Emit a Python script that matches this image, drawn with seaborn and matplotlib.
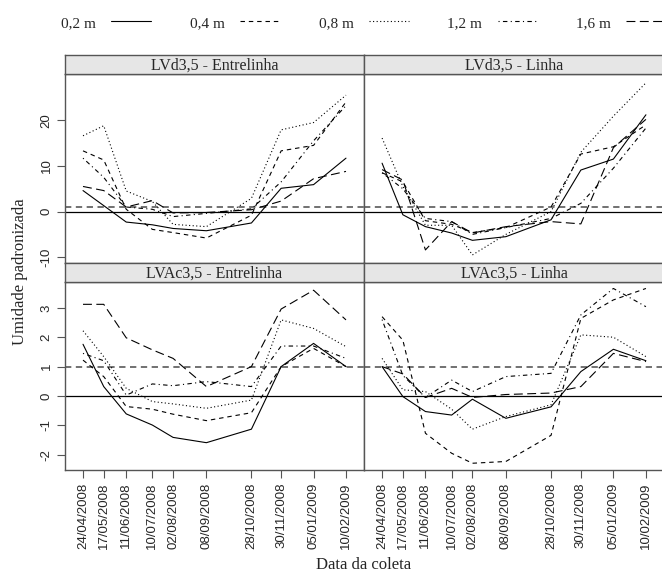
import numpy as np
import pandas as pd
import matplotlib
matplotlib.use('Agg')
import matplotlib.pyplot as plt
import seaborn as sns

# Datas de coleta
datas = ['24/04/2008', '17/05/2008', '11/06/2008', '10/07/2008', '02/08/2008',
         '08/09/2008', '28/10/2008', '30/11/2008', '05/01/2009', '10/02/2009']
profundidades = ['0,2 m', '0,4 m', '0,8 m', '1,2 m', '1,6 m']

# LVd3,5 - Entrelinha
lvd_entre_02 = [4.6, 1.3, -2.3, -2.9, -3.7, -4.2, -2.5, 5.1, 5.9, 11.7]
lvd_entre_04 = [13.3, 11.3, 0.5, -3.9, -4.6, -5.8, -0.8, 13.3, 14.5, 24.0]
lvd_entre_08 = [16.6, 18.8, 4.5, 2.2, -2.8, -3.3, 2.9, 17.9, 19.5, 25.5]
lvd_entre_12 = [11.7, 7.5, 1.0, 0.5, -1.1, -0.4, 0.6, 6.5, 15.5, 23.2]
lvd_entre_16 = [5.5, 4.6, 1.0, 2.4, -0.3, -0.2, 0.4, 2.3, 7.2, 8.8]

# LVd3,5 - Linha
lvd_linha_02 = [10.6, -0.7, -3.3, -4.7, -6.3, -5.5, -1.8, 9.1, 11.5, 21.2]
lvd_linha_04 = [8.5, 6.5, -2.0, -2.8, -4.6, -3.5, 1.0, 12.6, 14.2, 19.0]
lvd_linha_08 = [16.1, 5.5, -3.0, -3.0, -9.5, -5.0, 0.0, 13.0, 20.9, 28.2]
lvd_linha_12 = [8.5, 5.0, -1.5, -2.2, -5.0, -3.5, -1.5, 1.8, 9.5, 18.3]
lvd_linha_16 = [9.2, 6.9, -8.4, -2.2, -4.7, -3.3, -2.2, -2.7, 14.0, 20.2]

# LVAc3,5 - Entrelinha
lvac_entre_02 = [1.76, 0.32, -0.61, -0.99, -1.41, -1.59, -1.13, 1.0, 1.79, 1.0]
lvac_entre_04 = [1.22, 0.66, -0.36, -0.45, -0.62, -0.84, -0.57, 1.0, 1.62, 1.0]
lvac_entre_08 = [2.22, 1.34, 0.26, -0.19, -0.27, -0.42, -0.14, 2.59, 2.30, 1.68]
lvac_entre_12 = [1.45, 1.2, 0.03, 0.41, 0.35, 0.49, 0.32, 1.70, 1.70, 1.28]
lvac_entre_16 = [3.12, 3.12, 1.98, 1.57, 1.28, 0.32, 1.0, 2.96, 3.6, 2.59]

# LVAc3,5 - Linha
lvac_linha_02 = [1.0, -0.02, -0.53, -0.65, -0.11, -0.76, -0.37, 0.83, 1.59, 1.2]
lvac_linha_04 = [2.7, 1.9, -1.27, -1.95, -2.29, -2.23, -1.34, 2.64, 3.27, 3.66]
lvac_linha_08 = [1.28, 0.21, 0.15, -0.45, -1.13, -0.70, -0.30, 2.08, 2.0, 1.34]
lvac_linha_12 = [2.6, 0.7, -0.05, 0.54, 0.15, 0.66, 0.77, 2.76, 3.66, 3.04]
lvac_linha_16 = [1.0, 0.75, -0.05, 0.26, -0.05, 0.05, 0.10, 0.32, 1.45, 1.17]

paineis = {
    'LVd3,5 - Entrelinha': [lvd_entre_02, lvd_entre_04, lvd_entre_08, lvd_entre_12, lvd_entre_16],
    'LVd3,5 - Linha': [lvd_linha_02, lvd_linha_04, lvd_linha_08, lvd_linha_12, lvd_linha_16],
    'LVAc3,5 - Entrelinha': [lvac_entre_02, lvac_entre_04, lvac_entre_08, lvac_entre_12, lvac_entre_16],
    'LVAc3,5 - Linha': [lvac_linha_02, lvac_linha_04, lvac_linha_08, lvac_linha_12, lvac_linha_16],
}

# dias desde a primeira coleta (escala real de tempo)
datas_dt = pd.to_datetime(datas, dayfirst=True)
dias = (datas_dt - datas_dt[0]).days.values

linhas = []
for painel, series in paineis.items():
    for prof, vals in zip(profundidades, series):
        for d, v in zip(dias, vals):
            linhas.append((painel, prof, d, v))
df = pd.DataFrame(linhas, columns=['painel', 'prof', 'dia', 'valor'])

sns.set_theme(style='white')
plt.rcParams['font.family'] = ['Liberation Serif', 'DejaVu Serif']

estilos = {'0,2 m': '', '0,4 m': (4, 3.5), '0,8 m': (1, 2.2),
           '1,2 m': (1, 3, 4, 3), '1,6 m': (8, 4)}
cinza = '#555555'
fonte_ticks = {'family': 'Liberation Sans', 'size': 9.5}

fig = plt.figure(figsize=(6.62, 5.75), dpi=100)
W, H = 662, 575

def caixa(x0, x1, y0, y1):
    return [x0 / W, 1 - y1 / H, (x1 - x0) / W, (y1 - y0) / H]

xs = [(65, 364), (364, 664)]
ys = [(73.7, 262.7), (282, 470)]
strips = [(54.7, 73.7), (262.7, 282)]
ylims = [(-11.2, 30.2), (-2.52, 3.88)]
yticks = [[-10, 0, 10, 20], [-2, -1, 0, 1, 2, 3]]
nomes = list(paineis.keys())

for r in range(2):
    for c in range(2):
        nome = nomes[r * 2 + c]
        ax = fig.add_axes(caixa(xs[c][0], xs[c][1], ys[r][0], ys[r][1]))
        ax.axhline(0, color='black', lw=0.9, zorder=1)
        ax.axhline(1, color='#666666', lw=1.3, ls=(0, (3.5, 2.5)), zorder=1)
        sns.lineplot(data=df[df['painel'] == nome], x='dia', y='valor', style='prof',
                     style_order=profundidades, dashes=estilos, color='black',
                     lw=0.8, legend=False, ax=ax)
        ax.set_xlim(-20, 312)
        ax.set_ylim(*ylims[r])
        ax.set_xlabel('')
        ax.set_ylabel('')
        ax.set_xticks(dias)
        ax.set_yticks(yticks[r])
        for s in ax.spines.values():
            s.set_color(cinza)
            s.set_linewidth(1.0)
        ax.tick_params(axis='both', direction='out', length=6, width=0.8, color=cinza,
                       bottom=(r == 1), top=(r == 0), labelbottom=(r == 1), labeltop=False,
                       left=(c == 0), right=(c == 1), labelleft=(c == 0), labelright=False, pad=3)
        if r == 1:
            ax.set_xticklabels(datas, rotation=90, fontdict=fonte_ticks)
        if c == 0:
            ax.set_yticklabels([str(t) for t in yticks[r]], rotation=90, va='center',
                               fontdict=fonte_ticks)
        # faixa do painel
        sx = fig.add_axes(caixa(xs[c][0], xs[c][1], strips[r][0], strips[r][1]))
        sx.set_facecolor('#e6e6e6')
        sx.set_xticks([])
        sx.set_yticks([])
        for s in sx.spines.values():
            s.set_color(cinza)
            s.set_linewidth(1.0)
        sx.text(0.5, 0.45, nome, ha='center', va='center', fontsize=11.5,
                transform=sx.transAxes)

# legenda
handles = [plt.Line2D([], [], color='black', lw=0.8,
                      ls=('-' if estilos[p] == '' else (0, estilos[p]))) for p in profundidades]
fig.legend(handles, profundidades, loc='center left', bbox_to_anchor=(61 / W, 1 - 23 / H),
           ncol=5, frameon=False, markerfirst=False, fontsize=11, handlelength=2.6,
           handletextpad=1.0, columnspacing=2.55, borderaxespad=0, borderpad=0)

fig.text(20 / W, 1 - 272 / H, 'Umidade padronizada', rotation=90, ha='center', va='center',
         fontsize=12)
fig.text(364 / W, 1 - 565 / H, 'Data da coleta', ha='center', va='center', fontsize=12)

fig.savefig('out.png', dpi=100)
